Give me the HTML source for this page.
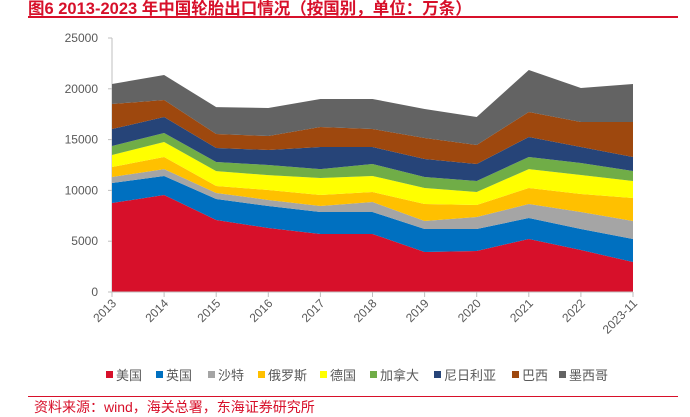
<!DOCTYPE html>
<html><head><meta charset="utf-8">
<style>
body{margin:0;background:#fff;width:690px;height:415px;overflow:hidden;position:relative;font-family:"Liberation Sans","Noto Sans CJK SC",sans-serif}
#title{position:absolute;left:28px;top:-5px;color:#d7102a;font-weight:bold;font-size:16.5px;white-space:nowrap}
#tl{position:absolute;left:28px;top:16px;width:650px;height:2px;background:#d7102a}
#bl{position:absolute;left:28px;top:396px;width:650px;height:1px;background:#d7102a}
#src{position:absolute;left:34px;top:397px;color:#d7102a;font-size:14px;white-space:nowrap}
</style></head><body>
<div id="title">图6  2013-2023 年中国轮胎出口情况（按国别，单位：万条）</div>
<div id="tl"></div>
<svg id="chart" width="690" height="415" style="position:absolute;left:0;top:0"></svg>
<div id="bl"></div>
<div id="src">资料来源：wind，海关总署，东海证券研究所</div>
<script>
const categories=["2013","2014","2015","2016","2017","2018","2019","2020","2021","2022","2023-11"];
const seriesNames=["美国","英国","沙特","俄罗斯","德国","加拿大","尼日利亚","巴西","墨西哥"];
const usa=[8760,9550,7090,6300,5710,5710,3940,4040,5220,4130,2950];
const uk=[1970,1870,2060,2160,2160,2160,2260,2160,2060,2070,2270];
const saudi=[590,680,590,600,590,990,790,1180,1380,1670,1770];
const russia=[980,1190,690,980,1090,980,1670,1180,1580,1780,2260];
const germany=[1180,1470,1470,1460,1670,1580,1580,1280,1860,1870,1680];
const canada=[890,890,900,1000,880,1180,1080,1090,1190,1180,980];
const nigeria=[1670,1570,1370,1480,2170,1670,1770,1670,1970,1570,1380];
const brazil=[2460,1680,1380,1370,1970,1770,2070,1870,2460,2460,3440];
const mexico=[1970,2460,2650,2760,2760,2960,2850,2750,4130,3350,3740];
const yTicks=[0,5000,10000,15000,20000,25000];
const series=[usa,uk,saudi,russia,germany,canada,nigeria,brazil,mexico];
const colors=["#d7102a","#0070c0","#a5a5a5","#ffc000","#ffff00","#70ad47","#264478","#9e480e","#636363"];
const X0=112,X1=633,Y0=292,Y1=38,YMAX=25000;
const xs=i=>X0+(X1-X0)*i/(categories.length-1);
const ys=v=>Y0-(Y0-Y1)*v/YMAX;
const svg=document.getElementById('chart');const NS="http://www.w3.org/2000/svg";
function mk(t,a){const e=document.createElementNS(NS,t);for(const k in a)e.setAttribute(k,a[k]);svg.appendChild(e);return e;}
let ax=mk('line',{x1:X0,y1:Y1,x2:X0,y2:Y0,stroke:'#bfbfbf'});


yTicks.forEach(v=>{
 const t=mk('text',{x:X0-14,y:ys(v)+4,'text-anchor':'end','font-size':'12',fill:'#595959'});t.textContent=v;
 
 
 const l=mk('line',{x1:X0-4,x2:X0,y1:ys(v),y2:ys(v),stroke:'#bfbfbf'});
 
 
});
let base=categories.map(()=>0);
series.forEach((s,k)=>{
 const top=base.map((b,i)=>b+s[i]);
 let d='M'+categories.map((c,i)=>xs(i)+','+ys(top[i])).join('L');
 for(let i=categories.length-1;i>=0;i--)d+='L'+xs(i)+','+ys(base[i]);
 const p=mk('path',{d:d+'Z',fill:colors[k]});
 
 
 base=top;
});
const xa=mk('line',{x1:X0,y1:Y0,x2:X1,y2:Y0,stroke:'#bfbfbf'});


categories.forEach((c,i)=>{
 const l=mk('line',{x1:xs(i),x2:xs(i),y1:Y0,y2:Y0+5,stroke:'#bfbfbf'});
 
 
 const t=mk('text',{x:xs(i)+5,y:Y0+12,'text-anchor':'end','font-size':'12',fill:'#595959',transform:`rotate(-45 ${xs(i)+5} ${Y0+12})`});
 t.textContent=c;
 
 
});
const lx=[106,156,208,258,320,370,434,512,559];
seriesNames.forEach((n,k)=>{
 const r=mk('rect',{x:lx[k],y:371,width:7,height:7,fill:colors[k]});
 
 
 const t=mk('text',{x:lx[k]+10,y:380,'font-size':'13',fill:'#595959'});t.textContent=n;
 
 
});
</script>
</body></html>
